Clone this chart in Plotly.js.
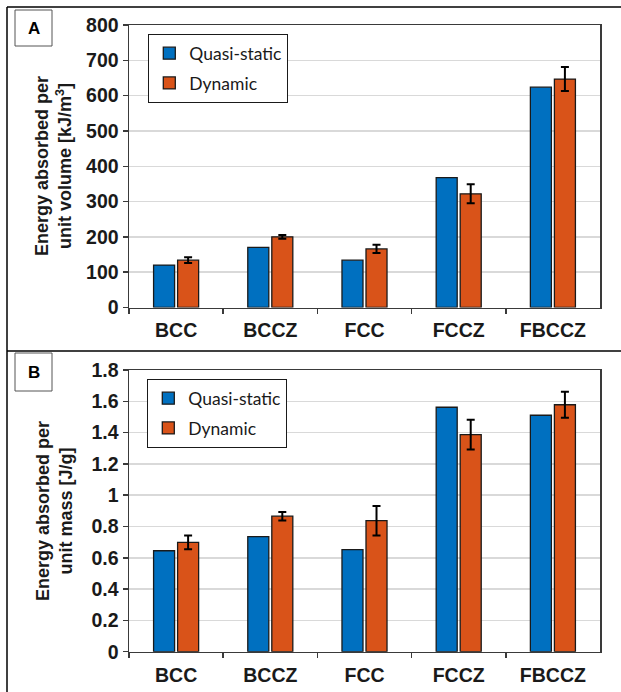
<!DOCTYPE html>
<html>
<head>
<meta charset="utf-8">
<script src="https://cdn.plot.ly/plotly-3.0.1.min.js"></script>
<style>html,body{margin:0;padding:0;background:#fff;}#chart{width:621px;height:692px;}</style>
</head>
<body>
<div id="chart"></div>
<script>
// ---- data ----
const categories = ['BCC', 'BCCZ', 'FCC', 'FCCZ', 'FBCCZ'];
const seriesNames = ['Quasi-static', 'Dynamic'];
// Panel A: energy absorbed per unit volume [kJ/m3]
const volQuasi = [120, 170, 134, 368, 624];
const volDynamic = [134, 200, 166, 322, 647];
const volDynamicErr = [8, 5, 12, 27, 34];
// Panel B: energy absorbed per unit mass [J/g]
const massQuasi = [0.645, 0.735, 0.652, 1.562, 1.511];
const massDynamic = [0.699, 0.866, 0.837, 1.387, 1.578];
const massDynamicErr = [0.044, 0.027, 0.094, 0.095, 0.083];
const volTicks = [0, 100, 200, 300, 400, 500, 600, 700, 800];
const massTicks = [0, 0.2, 0.4, 0.6, 0.8, 1, 1.2, 1.4, 1.6, 1.8];
const massTickText = ['0', '0.2', '0.4', '0.6', '0.8', '1', '1.2', '1.4', '1.6', '1.8'];

// ---- style ----
const W = 621, H = 692;
const BLUE = '#0070C0', ORANGE = '#D95319';
const px = v => v / W;
const py = v => 1 - v / H;
const barLine = {color: '#1a1a1a', width: 1.3};
const errStyle = {type: 'data', visible: true, color: '#000', thickness: 2, width: 4};

const traces = [
  {type: 'bar', name: seriesNames[0], x: categories, y: volQuasi, xaxis: 'x', yaxis: 'y',
   marker: {color: BLUE, line: barLine}, legend: 'legend', legendgroup: 'a1'},
  {type: 'bar', name: seriesNames[1], x: categories, y: volDynamic, xaxis: 'x', yaxis: 'y',
   marker: {color: ORANGE, line: barLine}, error_y: Object.assign({array: volDynamicErr}, errStyle),
   legend: 'legend', legendgroup: 'a2'},
  {type: 'bar', name: seriesNames[0], x: categories, y: massQuasi, xaxis: 'x2', yaxis: 'y2',
   marker: {color: BLUE, line: barLine}, legend: 'legend2', legendgroup: 'b1'},
  {type: 'bar', name: seriesNames[1], x: categories, y: massDynamic, xaxis: 'x2', yaxis: 'y2',
   marker: {color: ORANGE, line: barLine}, error_y: Object.assign({array: massDynamicErr}, errStyle),
   legend: 'legend2', legendgroup: 'b2'}
];

const SANS = 'Arial, Liberation Sans, sans-serif';
const tickFont = {family: SANS, size: 19.5, color: '#1a1a1a', weight: 700};
const axisLine = '#3a3a3a';

function xAxis(anchor) {
  return {
    domain: [px(129), px(600)], anchor: anchor, type: 'category', range: [-0.5, 4.5],
    showline: true, linecolor: axisLine, linewidth: 1.5, mirror: true,
    ticks: 'outside', tickson: 'boundaries', ticklen: 5, tickcolor: axisLine, tickwidth: 1.5,
    ticklabelstandoff: 5,
    tickfont: tickFont, showgrid: false, automargin: false, fixedrange: true
  };
}
function yAxis(anchor, top, bottom, range, tickvals, ticktext) {
  return {
    domain: [py(bottom), py(top)], anchor: anchor, range: range,
    tickvals: tickvals, ticktext: ticktext,
    showline: true, linecolor: axisLine, linewidth: 1.5, mirror: true,
    ticks: 'outside', ticklen: 5, tickcolor: axisLine, tickwidth: 1.5,
    tickfont: tickFont, showgrid: true, gridcolor: '#d9d9d9', gridwidth: 1.5,
    zeroline: false, automargin: false, fixedrange: true
  };
}

const legendBase = {
  bgcolor: '#fff', bordercolor: '#1a1a1a', borderwidth: 1.3,
  font: {family: 'Lato, Open Sans, sans-serif', size: 17.5, color: '#1a1a1a'},
  xanchor: 'left', yanchor: 'top', traceorder: 'grouped', tracegroupgap: 4,
  itemwidth: 30, itemclick: false, itemdoubleclick: false
};

const titleFont = {family: SANS, size: 18, color: '#1a1a1a', weight: 700};
const labelFont = {family: SANS, size: 17, color: '#000', weight: 700};

const layout = {
  width: W, height: H, autosize: false,
  margin: {l: 0, r: 0, t: 0, b: 0, pad: 0},
  paper_bgcolor: '#fff', plot_bgcolor: '#fff',
  barmode: 'group', bargap: 0.49, bargroupgap: 0.125,
  showlegend: true,
  xaxis: xAxis('y'),
  yaxis: yAxis('x', 25, 307.5, [0, 800], volTicks, volTicks.map(String)),
  xaxis2: xAxis('y2'),
  yaxis2: yAxis('x2', 370, 651.7, [0, 1.8], massTicks, massTickText),
  legend: Object.assign({x: px(148), y: py(34)}, legendBase),
  legend2: Object.assign({x: px(147), y: py(379)}, legendBase),
  shapes: [
    {type: 'line', xref: 'paper', yref: 'paper', x0: px(7), x1: 1, y0: py(7), y1: py(7), line: {color: '#000', width: 1.5}},
    {type: 'line', xref: 'paper', yref: 'paper', x0: px(7), x1: px(7), y0: py(7), y1: 0, line: {color: '#000', width: 1.5}},
    {type: 'line', xref: 'paper', yref: 'paper', x0: px(7), x1: 1, y0: py(351), y1: py(351), line: {color: '#000', width: 1.5}},
    {type: 'rect', xref: 'paper', yref: 'paper', x0: px(15), x1: px(52), y0: py(46), y1: py(10), line: {color: '#555', width: 1}},
    {type: 'rect', xref: 'paper', yref: 'paper', x0: px(15), x1: px(52), y0: py(391), y1: py(353), line: {color: '#555', width: 1}}
  ],
  annotations: [
    {xref: 'paper', yref: 'paper', x: px(33.5), y: py(28), xanchor: 'center', yanchor: 'middle',
     text: 'A', showarrow: false, font: labelFont},
    {xref: 'paper', yref: 'paper', x: px(33.5), y: py(372), xanchor: 'center', yanchor: 'middle',
     text: 'B', showarrow: false, font: labelFont},
    {xref: 'paper', yref: 'paper', x: px(54), y: py(166), xanchor: 'center', yanchor: 'middle',
     text: 'Energy absorbed per<br>unit volume [kJ/m<sup>3</sup>]',
     textangle: -90, showarrow: false, font: titleFont},
    {xref: 'paper', yref: 'paper', x: px(54), y: py(511), xanchor: 'center', yanchor: 'middle',
     text: 'Energy absorbed per<br>unit mass [J/g]',
     textangle: -90, showarrow: false, font: titleFont}
  ]
};

Plotly.newPlot('chart', traces, layout, {staticPlot: true, displayModeBar: false});
</script>
</body>
</html>
